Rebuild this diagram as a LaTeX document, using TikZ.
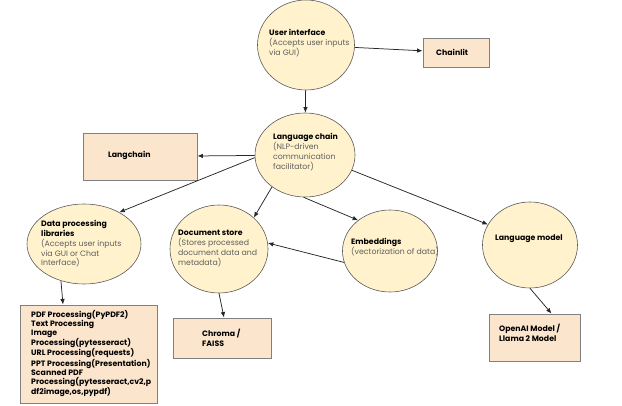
\documentclass[tikz,border=0pt]{standalone}
\usepackage{fontspec}
\setmainfont{Poppins}
\usetikzlibrary{shapes.geometric,arrows.meta}
\definecolor{circfill}{HTML}{FFF2CC}
\definecolor{boxfill}{HTML}{FCE5CD}
\definecolor{circline}{HTML}{595959}
\definecolor{boxline}{HTML}{808080}
\definecolor{subtxt}{HTML}{5F5F5F}
\definecolor{arr}{HTML}{262626}
\begin{document}
\begin{tikzpicture}[x=1pt,y=-1pt,
  bubble/.style={ellipse,draw=circline,fill=circfill,line width=0.6pt,inner sep=0pt},
  box/.style={rectangle,draw=boxline,fill=boxfill,line width=0.9pt,inner sep=0pt},
  txt/.style={align=left,inner sep=0pt,anchor=west,font=\fontsize{7.8}{9.8}\selectfont,text=black},
  conn/.style={draw=arr,line width=0.75pt,-{Latex[length=5.5pt,width=4.5pt]}}]
\useasboundingbox (0,0) rectangle (622,406);
% shapes
\node[bubble,minimum width=97pt,minimum height=90pt] (ui) at (306,45) {};
\node[box,minimum width=66pt,minimum height=29pt] (cl) at (456,52.5) {};
\node[bubble,minimum width=100pt,minimum height=84pt] (lc) at (305,155) {};
\node[box,minimum width=114pt,minimum height=47pt] (lgc) at (140,156.5) {};
\node[bubble,minimum width=114pt,minimum height=80pt] (dp) at (84,244) {};
\node[box,minimum width=137pt,minimum height=98pt] (pdf) at (88.5,354) {};
\node[bubble,minimum width=98pt,minimum height=88pt] (ds) at (219,249) {};
\node[box,minimum width=98pt,minimum height=40pt] (ch) at (222,338) {};
\node[bubble,minimum width=95pt,minimum height=82pt] (em) at (390,251) {};
\node[bubble,minimum width=95pt,minimum height=86pt] (lm) at (530,245) {};
\node[box,minimum width=91pt,minimum height=47pt] (oa) at (534.5,337.5) {};
% texts
\node[txt] (uit) at (269,43) {\textbf{User interface}\\\textcolor{subtxt}{(Accepts user inputs}\\\textcolor{subtxt}{via GUI)}};
\node[txt] (clt) at (436,52) {\textbf{Chainlit}};
\node[txt] (lct) at (273,152) {\textbf{Language chain}\\\textcolor{subtxt}{(NLP-driven}\\\textcolor{subtxt}{communication}\\\textcolor{subtxt}{facilitator)}};
\node[txt] (lgct) at (108,155) {\textbf{Langchain}};
\node[txt] (dpt) at (41,244) {\textbf{Data processing}\\\textbf{libraries}\\\textcolor{subtxt}{(Accepts user inputs}\\\textcolor{subtxt}{via GUI or Chat}\\\textcolor{subtxt}{Interface)}};
\node[txt,anchor=north west,font=\fontsize{7.8}{9}\selectfont\bfseries] (pdft) at (31,310) {PDF Processing(PyPDF2)\\Text Processing\\Image\\Processing(pytesseract)\\URL Processing(requests)\\PPT Processing(Presentation)\\Scanned PDF\\Processing(pytesseract,cv2,p\\df2image,os,pypdf)};
\node[txt] (dst) at (178,248.5) {\textbf{Document store}\\\textcolor{subtxt}{(Stores processed}\\\textcolor{subtxt}{document data and}\\\textcolor{subtxt}{metadata)}};
\node[txt] (cht) at (202,338) {\textbf{Chroma /}\\\textbf{FAISS}};
\node[txt] (emt) at (351,247.5) {\textbf{Embeddings}\\\textcolor{subtxt}{(vectorization of data)}};
\node[txt] (lmt) at (495,239) {\textbf{Language model}};
\node[txt] (oat) at (499,333) {\textbf{OpenAI Model /}\\\textbf{Llama 2 Model}};
% connectors
\draw[conn] (ui) -- (cl);
\draw[conn] (ui) -- (lc);
\draw[conn] (lc) -- (lgc);
\draw[conn] (lc.183) -- (dp.42);
\draw[conn] (lc.224) -- (ds.42);
\draw[conn] (lc.268) -- (em.136);
\draw[conn] (em.194) -- (ds.7);
\draw[conn] (lc.342) -- (lm.154);
\draw[conn] (lm.south) -- ([xshift=17pt]oa.north);
\draw[conn] (ds.south) -- ([xshift=2pt]ch.north);
\draw[conn] (dp.238) -- ([xshift=-25.5pt]pdf.north);
\end{tikzpicture}
\end{document}
